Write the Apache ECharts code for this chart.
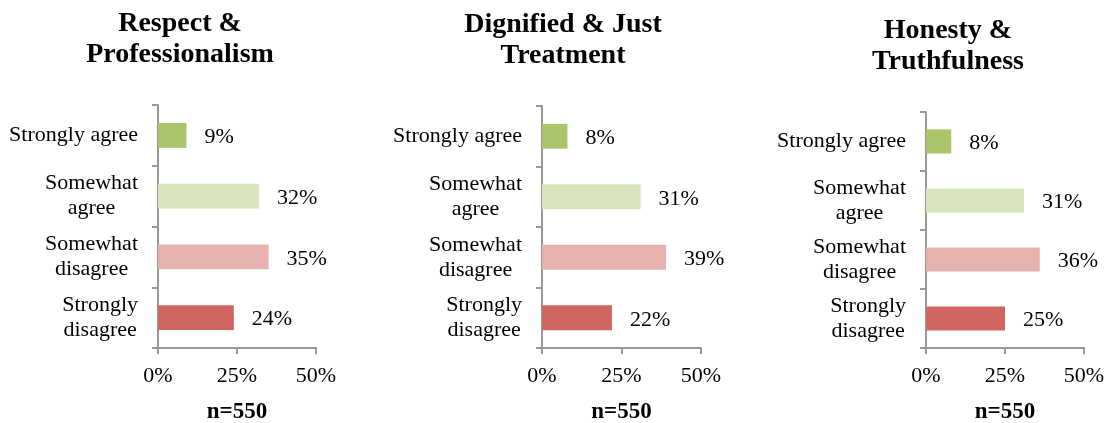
<!DOCTYPE html>
<html>
<head>
<meta charset="utf-8">
<script src="https://cdn.jsdelivr.net/npm/echarts@6/dist/echarts.min.js"></script>
<style>
html,body{margin:0;padding:0;background:#fff;}
#chart{width:1108px;height:423px;}
</style>
</head>
<body>
<div id="chart"></div>
<script>
const categories = ['Strongly agree', 'Somewhat agree', 'Somewhat disagree', 'Strongly disagree'];
const panelTitles = ['Respect &\nProfessionalism', 'Dignified & Just\nTreatment', 'Honesty &\nTruthfulness'];
const respectValues = [9, 32, 35, 24];
const dignifiedValues = [8, 31, 39, 22];
const honestyValues = [8, 31, 36, 25];
const xTickLabels = ['0%', '25%', '50%'];
const sampleLabel = 'n=550';

const barColors = ['#AAC46B', '#D6E3BC', '#E6B2AF', '#D0665F'];
const FONT = 'Liberation Serif';
const axisColor = '#989898';

const panels = [
  { values: respectValues, grid: { left: 158, top: 105, width: 158, height: 243 }, titleTop: 8, titleX: 180 },
  { values: dignifiedValues, grid: { left: 542, top: 106, width: 159, height: 242 }, titleTop: 9, titleX: 563 },
  { values: honestyValues, grid: { left: 926, top: 112, width: 158, height: 236 }, titleTop: 15, titleX: 948 }
];

function wrapCat(v) {
  const lines = v === 'Strongly agree' ? [v] : [v.slice(0, v.indexOf(' ')), v.slice(v.indexOf(' ') + 1)];
  return lines.map(l => '{c|' + l + '}').join('\n');
}

const option = {
  animation: false,
  backgroundColor: '#fff',
  title: [],
  grid: [],
  xAxis: [],
  yAxis: [],
  series: []
};

panels.forEach((p, i) => {
  const cx = p.grid.left + p.grid.width / 2;
  option.title.push({
    text: panelTitles[i],
    left: p.titleX, top: p.titleTop, textAlign: 'center', padding: 0,
    textStyle: { fontFamily: FONT, fontWeight: 'bold', fontSize: 28, lineHeight: 31, color: '#000' }
  });
  option.title.push({
    text: sampleLabel,
    left: cx, top: 400, textAlign: 'center', padding: 0,
    textStyle: { fontFamily: FONT, fontWeight: 'bold', fontSize: 23, lineHeight: 24, color: '#000' }
  });
  option.grid.push(Object.assign({ containLabel: false }, p.grid));
  option.xAxis.push({
    type: 'value', gridIndex: i, min: 0, max: 50, interval: 25,
    axisLine: { show: true, lineStyle: { color: axisColor, width: 2 } },
    axisTick: { show: true, length: 6, lineStyle: { color: axisColor, width: 2 } },
    splitLine: { show: false },
    axisLabel: {
      margin: 17, fontFamily: FONT, fontSize: 22, color: '#000',
      formatter: v => xTickLabels[Math.round(v / 25)]
    }
  });
  option.yAxis.push({
    type: 'category', gridIndex: i, data: categories, inverse: true,
    axisLine: { show: true, lineStyle: { color: axisColor, width: 2 } },
    axisTick: { show: true, length: 6, lineStyle: { color: axisColor, width: 2 } },
    splitLine: { show: false },
    axisLabel: {
      margin: 20, color: '#000', fontFamily: FONT, fontSize: 22, lineHeight: 25,
      formatter: wrapCat,
      rich: { c: { align: 'center', fontFamily: FONT, fontSize: 22, lineHeight: 25, color: '#000' } }
    }
  });
  option.series.push({
    type: 'bar', xAxisIndex: i, yAxisIndex: i,
    barCategoryGap: '59%',
    data: p.values.map((v, j) => ({ value: v, itemStyle: { color: barColors[j] } })),
    label: {
      show: true, position: 'right', distance: 18,
      formatter: '{c}%', fontFamily: FONT, fontSize: 22, color: '#000', offset: [0, 2]
    }
  });
});

const chart = echarts.init(document.getElementById('chart'), null, { renderer: 'canvas' });
chart.setOption(option);
</script>
</body>
</html>
